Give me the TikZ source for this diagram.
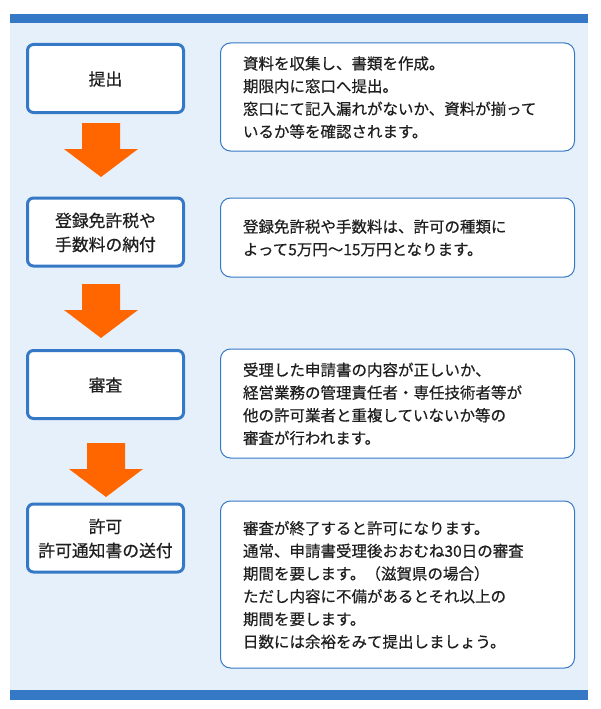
\documentclass[tikz,border=0pt]{standalone}
\usepackage{fontspec}
\setmainfont{Noto Sans CJK JP}[FakeBold=0.5]
\definecolor{flowblue}{HTML}{3579C6}
\definecolor{flowbg}{HTML}{E6F0FA}
\definecolor{floworange}{HTML}{FF6600}
\begin{document}
\begin{tikzpicture}[x=1pt, y=-1pt,
  stage/.style={draw=flowblue, line width=3pt, fill=white, rounded corners=6pt,
    text width=144pt, inner xsep=6pt, minimum height=68pt, align=center, text=black!88,
    font=\fontsize{16.8}{24}\selectfont, execute at begin node={\rule{0pt}{0.9em}}},
  note/.style={draw=flowblue, line width=1pt, fill=white, rounded corners=10pt,
    text width=309pt, inner xsep=22.5pt, align=left, text=black!88,
    font=\fontsize{15.5}{22.7}\selectfont, execute at begin node={\rule{0pt}{0.9em}}},
  downarrow/.style={fill=floworange}]
  \useasboundingbox (0,0) rectangle (600,709);
  % panel
  \fill[flowbg] (10,14) rectangle (588,700);
  \fill[flowblue] (10,14) rectangle (588,23);
  \fill[flowblue] (10,690) rectangle (588,700);
  % steps
  \node[stage] (teishutsu) at (105.5,78.5) {提出};
  \node[stage] (nofu) at (105.5,232) {登録免許税や\\手数料の納付};
  \node[stage] (shinsa) at (105.5,384.5) {審査};
  \node[stage] (kyoka) at (105.5,538) {許可\\許可通知書の送付};
  % notes
  \node[note, minimum height=108pt] (teishutsu-note) at (397.5,97)
    {資料を収集し、書類を作成。\\期限内に窓口へ提出。\\窓口にて記入漏れがないか、資料が揃って\\いるか等を確認されます。};
  \node[note, minimum height=79pt] (nofu-note) at (397.5,237.5)
    {登録免許税や手数料は、許可の種類に\\よって5万円〜15万円となります。};
  \node[note, minimum height=109pt] (shinsa-note) at (397.5,403.5)
    {受理した申請書の内容が正しいか、\\経営業務の管理責任者・専任技術者等が\\他の許可業者と重複していないか等の\\審査が行われます。};
  \node[note, minimum height=167pt] (kyoka-note) at (397.5,584.5)
    {審査が終了すると許可になります。\\通常、申請書受理後おおむね30日の審査\\期間を要します。（滋賀県の場合）\\ただし内容に不備があるとそれ以上の\\期間を要します。\\日数には余裕をみて提出しましょう。};
  % arrows
  \foreach \x/\y in {101/123, 101/284, 106/443}
    \fill[downarrow] ({\x-19},\y) -- ({\x+19},\y) -- ({\x+19},\y+26) -- ({\x+37},\y+26)
      -- (\x,\y+54) -- ({\x-37},\y+26) -- ({\x-19},\y+26) -- cycle;
\end{tikzpicture}
\end{document}
